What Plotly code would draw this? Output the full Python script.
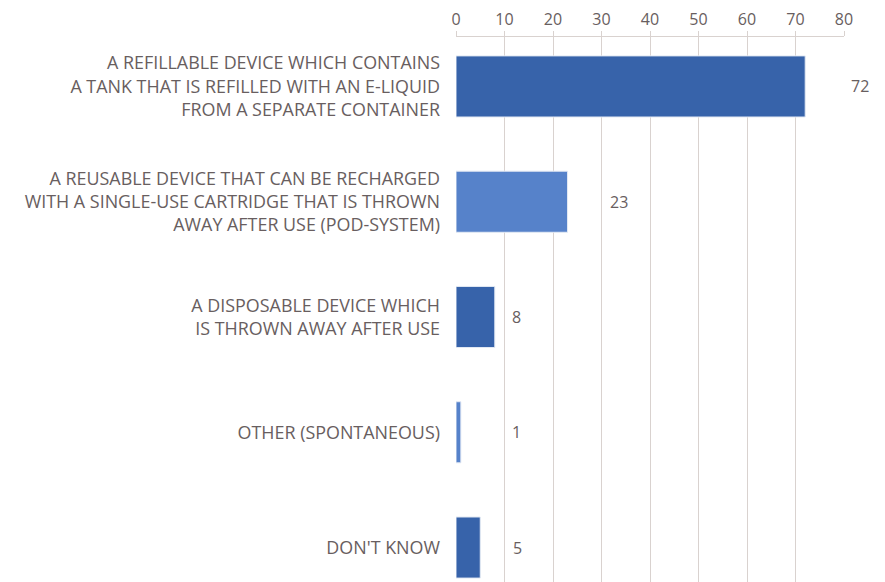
import plotly.graph_objects as go

categories = [
    "A REFILLABLE DEVICE WHICH CONTAINS<br>A TANK THAT IS REFILLED WITH AN E-LIQUID<br>FROM A SEPARATE CONTAINER",
    "A REUSABLE DEVICE THAT CAN BE RECHARGED<br>WITH A SINGLE-USE CARTRIDGE THAT IS THROWN<br>AWAY AFTER USE (POD-SYSTEM)",
    "A DISPOSABLE DEVICE WHICH<br>IS THROWN AWAY AFTER USE",
    "OTHER (SPONTANEOUS)",
    "DON'T KNOW",
]
values = [72, 23, 8, 1, 5]
x_ticks = [0, 10, 20, 30, 40, 50, 60, 70, 80]

bar_colors = ["#3763AA", "#5682CA", "#3763AA", "#5682CA", "#3763AA"]
label_shift_px = [55, 51, 22, 56, 37]

FONT = "Open Sans"
GRAY = "#685E60"
GRID = "#D9D2CF"
FS_CAT = 17.9
FS_NUM = 16

fig = go.Figure()
fig.add_trace(go.Bar(
    y=list(range(len(categories))),
    x=values,
    orientation="h",
    width=0.53,
    marker=dict(color=bar_colors, line=dict(color="#E4EAF4", width=1)),
    hoverinfo="x",
))

for i, (v, s) in enumerate(zip(values, label_shift_px)):
    fig.add_annotation(x=v, y=i, text=str(v), showarrow=False, xshift=s,
                       xanchor="center", yanchor="middle",
                       font=dict(family=FONT, size=FS_NUM, color=GRAY))

fig.update_layout(
    width=885, height=582,
    margin=dict(l=456, r=41, t=37, b=0),
    paper_bgcolor="white", plot_bgcolor="white",
    showlegend=False,
    font=dict(family=FONT, size=FS_NUM, color=GRAY),
    xaxis=dict(side="top", range=[0, 80], tickvals=x_ticks,
               showgrid=True, gridcolor=GRID, gridwidth=1,
               showline=True, linecolor=GRID, linewidth=1,
               ticks="outside", ticklen=5, tickcolor=GRID,
               zeroline=False, automargin=False,
               tickfont=dict(family=FONT, size=FS_NUM, color=GRAY)),
    yaxis=dict(range=[4.299, -0.429], tickvals=list(range(len(categories))),
               ticktext=categories, showgrid=False, zeroline=False,
               showline=False, ticks="", ticklabelstandoff=15,
               automargin=False,
               tickfont=dict(family=FONT, size=FS_CAT, color=GRAY)),
)

fig.write_html("out.html", config={"displayModeBar": False},
               post_script="document.body.style.margin='0';")
